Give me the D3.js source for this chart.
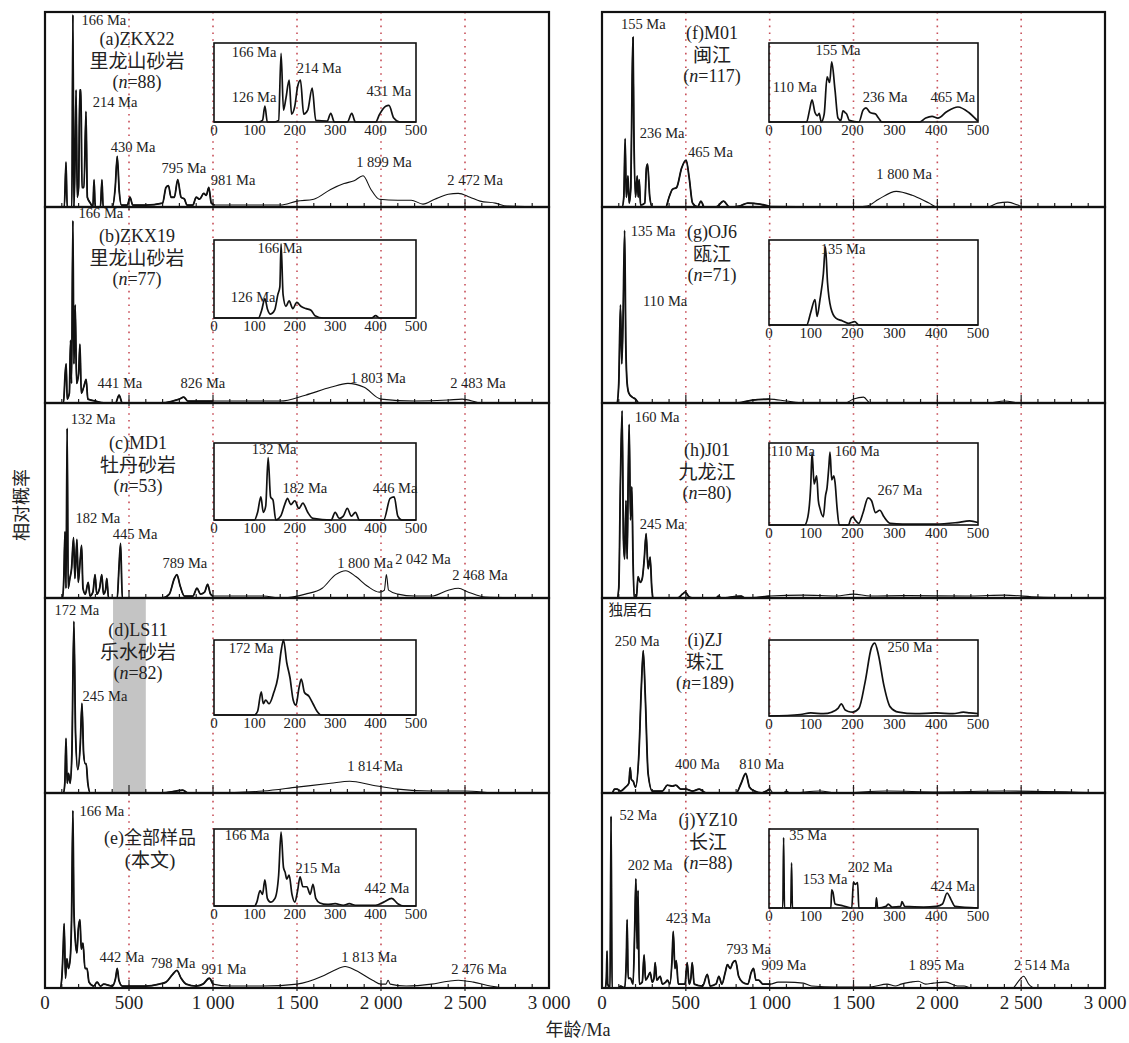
<!DOCTYPE html>
<html>
<head>
<meta charset="utf-8">
<script src="https://cdn.jsdelivr.net/npm/d3@7"></script>
<style>
body { margin: 0; background: #fff; }
text { font-family: "Liberation Serif", "Noto Sans CJK SC", serif; fill: #222; }
</style>
</head>
<body>
<div id="chart"></div>
<script>
// ---- data (ages in Ma, relative probability 0..1 of panel height) ----
var ticksMain = [0, 500, 1000, 1500, 2000, 2500, 3000];
var tickLabelsMain = ["0", "500", "1 000", "1 500", "2 000", "2 500", "3 000"];
var ticksInset = [0, 100, 200, 300, 400, 500];

var titles = [
  ["(a)ZKX22", "里龙山砂岩", "88"],
  ["(b)ZKX19", "里龙山砂岩", "77"],
  ["(c)MD1", "牡丹砂岩", "53"],
  ["(d)LS11", "乐水砂岩", "82"],
  ["(e)全部样品", "(本文)", null],
  ["(f)M01", "闽江", "117"],
  ["(g)OJ6", "瓯江", "71"],
  ["(h)J01", "九龙江", "80"],
  ["(i)ZJ", "珠江", "189"],
  ["(j)YZ10", "长江", "88"]
];

var curveA = [[0,0],[100,0],[115,0],[125,0.23],[132,0],[160,0],[166,0.985],[172,0],[178,0.2],[185,0.6],[192,0.05],[200,0.1],[207,0.6],[214,0.6],[220,0.1],[232,0.1],[244,0.49],[252,0.05],[270,0.02],[285,0],[292,0.14],[299,0],[330,0],[339,0.14],[346,0],[400,0],[418,0.1],[430,0.26],[442,0.08],[455,0.01],[490,0.01],[506,0.05],[522,0.01],[600,0.01],[700,0.02],[720,0.1],[735,0.11],[750,0.05],[770,0.05],[790,0.14],[810,0.05],[830,0.04],[845,0.01],[880,0.01],[900,0.05],[920,0.04],[945,0.07],[960,0.06],[975,0.1],[990,0.02],[1010,0.01],[1200,0.01],[1400,0.01],[1500,0.03],[1600,0.04],[1700,0.09],[1780,0.12],[1840,0.135],[1893,0.16],[1940,0.09],[1990,0.04],[2100,0.035],[2180,0.035],[2250,0.015],[2320,0.04],[2400,0.065],[2460,0.07],[2530,0.05],[2590,0.03],[2680,0.02],[2750,0.005],[3000,0]];
var insetA = [[0,0],[110,0],[120,0.02],[126,0.2],[132,0],[150,0],[160,0.02],[166,0.87],[172,0.15],[178,0.3],[186,0.53],[192,0.1],[200,0.2],[207,0.45],[214,0.53],[222,0.1],[232,0.15],[243,0.43],[252,0.02],[280,0.01],[289,0.11],[298,0],[330,0],[341,0.11],[350,0],[400,0],[410,0.1],[425,0.2],[433,0.21],[445,0.05],[460,0],[500,0]];

var curveB = [[0,0],[110,0],[120,0.15],[126,0.2],[132,0.02],[145,0.05],[152,0.32],[158,0.1],[166,0.93],[172,0.2],[180,0.5],[188,0.1],[200,0.15],[208,0.3],[216,0.05],[230,0.08],[245,0.12],[255,0.02],[300,0.01],[350,0],[420,0],[441,0.04],[460,0],[700,0],[760,0.01],[800,0.02],[826,0.03],[850,0.01],[1000,0.01],[1400,0.01],[1550,0.04],[1700,0.08],[1803,0.1],[1900,0.08],[2000,0.02],[2200,0.01],[2400,0.015],[2483,0.02],[2600,0],[3000,0]];
var insetB = [[0,0],[110,0],[118,0.1],[126,0.25],[132,0.12],[140,0.05],[150,0.1],[158,0.3],[163,0.4],[166,0.95],[171,0.3],[178,0.15],[186,0.22],[195,0.12],[205,0.2],[215,0.15],[228,0.12],[240,0.1],[250,0.03],[270,0],[390,0],[400,0.03],[410,0],[500,0]];

var curveC = [[0,0],[105,0],[112,0.1],[119,0.34],[125,0.05],[132,0.87],[138,0.05],[148,0.1],[158,0.15],[170,0.31],[178,0.1],[190,0.3],[198,0.08],[210,0.2],[218,0.27],[226,0.05],[240,0.02],[257,0.08],[268,0.01],[285,0.03],[298,0.12],[308,0.02],[325,0.05],[338,0.12],[348,0.02],[360,0.04],[368,0.1],[378,0],[430,0],[440,0.15],[450,0.28],[460,0],[500,0],[700,0],[740,0.02],[770,0.1],[785,0.12],[805,0.06],[830,0.01],[880,0.01],[905,0.05],[925,0.02],[950,0.03],[968,0.07],[985,0.02],[1000,0.01],[1300,0.01],[1400,0],[1550,0.02],[1650,0.05],[1730,0.12],[1790,0.14],[1850,0.11],[1920,0.06],[1990,0.03],[2020,0.04],[2032,0.12],[2045,0.04],[2100,0.02],[2200,0.01],[2300,0.01],[2400,0.04],[2460,0.05],[2520,0.03],[2620,0.005],[3000,0]];
var insetC = [[0,0],[100,0],[108,0.1],[116,0.3],[122,0.1],[128,0.18],[134,0.81],[140,0.3],[146,0.26],[153,0],[165,0.05],[175,0.2],[182,0.28],[190,0.2],[200,0.25],[210,0.15],[220,0.22],[232,0.1],[245,0.02],[290,0],[300,0.1],[310,0.02],[320,0.05],[330,0.15],[340,0.05],[350,0.1],[360,0],[420,0],[436,0.28],[446,0.3],[455,0.05],[465,0],[500,0]];

var curveD = [[0,0],[110,0],[118,0.05],[125,0.28],[132,0.05],[140,0.1],[150,0.05],[160,0.2],[172,0.88],[182,0.3],[195,0.12],[210,0.25],[220,0.46],[230,0.2],[240,0.15],[245,0.15],[255,0.05],[270,0],[700,0],[780,0.01],[820,0.015],[850,0],[1000,0],[1300,0.01],[1500,0.03],[1700,0.05],[1814,0.06],[1950,0.04],[2100,0.02],[2300,0.01],[2500,0.01],[2700,0],[3000,0]];
var insetD = [[0,0],[100,0],[108,0.05],[117,0.31],[122,0.15],[128,0.2],[136,0.15],[148,0.3],[158,0.5],[166,0.85],[172,1.0],[180,0.7],[188,0.5],[196,0.2],[203,0.13],[210,0.35],[216,0.48],[224,0.3],[235,0.25],[245,0.15],[255,0.05],[265,0],[500,0]];
var shadedBand = [405, 600];

var curveE = [[0,0],[90,0],[100,0.05],[108,0.2],[114,0.33],[122,0.05],[130,0.15],[140,0.1],[150,0.15],[158,0.35],[166,0.91],[172,0.41],[180,0.25],[190,0.18],[198,0.3],[208,0.35],[216,0.2],[226,0.23],[238,0.1],[250,0.1],[262,0.03],[290,0.01],[310,0.03],[330,0.01],[350,0.02],[400,0.01],[420,0.05],[430,0.1],[440,0.04],[460,0.01],[600,0.01],[680,0.02],[720,0.03],[760,0.07],[785,0.09],[810,0.05],[840,0.02],[900,0.01],[940,0.02],[978,0.05],[1000,0.02],[1100,0.01],[1300,0.01],[1500,0.02],[1650,0.06],[1720,0.09],[1786,0.11],[1850,0.09],[1950,0.04],[2000,0.02],[2030,0.02],[2042,0.04],[2055,0.02],[2150,0.01],[2300,0.02],[2400,0.035],[2460,0.04],[2550,0.03],[2650,0.01],[2750,0],[3000,0]];
var insetE = [[0,0],[100,0],[106,0.05],[114,0.2],[120,0.15],[126,0.34],[132,0.1],[140,0.05],[151,0.1],[160,0.4],[166,0.96],[172,0.5],[176,0.44],[180,0.35],[186,0.4],[193,0.15],[200,0.05],[207,0.2],[213,0.38],[220,0.25],[230,0.25],[238,0.15],[245,0.28],[252,0.1],[262,0.04],[280,0.02],[300,0.03],[320,0.01],[335,0.03],[350,0.01],[400,0.01],[420,0.05],[440,0.1],[455,0.03],[470,0],[500,0]];

var curveF = [[0,0],[120,0],[130,0.05],[138,0.35],[145,0.05],[150,0.1],[155,0.16],[162,0.02],[172,0.1],[180,0.67],[185,0.87],[190,0.4],[200,0.05],[210,0.16],[216,0.05],[222,0.14],[230,0.01],[255,0.02],[265,0.2],[272,0.22],[285,0.05],[300,0],[380,0],[400,0.05],[420,0.09],[445,0.1],[475,0.2],[502,0.24],[520,0.15],[540,0.02],[570,0],[590,0.03],[610,0],[680,0],[725,0.03],[760,0],[820,0.005],[870,0.02],[940,0.015],[1000,0.003],[1500,0],[1580,0.005],[1650,0.04],[1755,0.08],[1850,0.06],[1950,0.02],[2000,0],[2300,0],[2360,0.02],[2420,0.025],[2480,0.01],[2510,0],[3000,0]];
var insetF = [[0,0],[90,0],[97,0.15],[103,0.28],[110,0.12],[116,0.08],[120,0.11],[125,0],[132,0.1],[139,0.57],[145,0.5],[150,0.76],[158,0.4],[165,0.05],[172,0.02],[177,0.14],[182,0.12],[186,0.1],[192,0.02],[215,0],[225,0.15],[232,0.18],[242,0.12],[255,0.1],[262,0.05],[270,0],[360,0],[375,0.05],[390,0.07],[404,0.05],[425,0.13],[452,0.19],[478,0.12],[498,0.02],[500,0.01]];

var curveG = [[0,0],[90,0],[100,0.1],[110,0.5],[118,0.2],[125,0.4],[135,0.88],[142,0.3],[150,0.1],[160,0.05],[180,0.03],[200,0.02],[220,0],[800,0],[900,0.015],[1000,0.02],[1100,0.01],[1200,0],[1450,0],[1500,0.02],[1560,0.03],[1600,0],[2300,0],[2400,0.01],[2500,0],[3000,0]];
var insetG = [[0,0],[90,0],[100,0.15],[110,0.3],[115,0.1],[122,0.3],[130,0.6],[135,0.92],[140,0.5],[148,0.2],[160,0.08],[175,0.05],[190,0.02],[205,0.04],[215,0],[500,0]];

var curveH = [[0,0],[90,0],[100,0.05],[110,0.6],[120,0.96],[128,0.3],[135,0.2],[143,0.5],[150,0.2],[156,0.6],[162,0.89],[170,0.4],[178,0.57],[185,0.2],[192,0],[205,0],[215,0.11],[228,0.08],[240,0.1],[252,0.2],[263,0.33],[275,0.15],[287,0.21],[297,0.05],[305,0],[450,0],[480,0.02],[497,0.03],[515,0.01],[540,0],[680,0],[695,0.01],[710,0],[830,0.01],[850,0],[950,0.005],[1000,0.01],[1200,0.015],[1400,0.01],[1500,0.02],[1600,0.01],[1800,0.012],[2200,0.01],[2400,0.015],[2600,0.005],[3000,0]];
var insetH = [[0,0],[85,0],[93,0.1],[100,0.5],[103,0.88],[108,0.5],[114,0.6],[118,0.3],[122,0.2],[130,0.1],[135,0.35],[139,0.46],[143,0.7],[146,0.89],[150,0.55],[155,0.6],[158,0.52],[163,0.2],[168,0],[190,0],[196,0.08],[201,0.1],[206,0.06],[215,0.02],[225,0.15],[237,0.33],[245,0.3],[255,0.15],[265,0.18],[275,0.1],[290,0.02],[320,0.01],[400,0.01],[450,0.03],[480,0.05],[500,0.03]];

var curveI = [[0,0],[60,0],[75,0.02],[90,0.02],[110,0.01],[140,0.03],[160,0.05],[168,0.13],[175,0.07],[186,0.06],[200,0.03],[220,0.2],[235,0.55],[246,0.73],[258,0.5],[275,0.1],[300,0.01],[360,0.01],[390,0.04],[420,0.035],[440,0.04],[470,0.02],[500,0.02],[540,0.01],[580,0.02],[620,0],[800,0],[830,0.05],[857,0.1],[880,0.03],[910,0.01],[950,0],[980,0.01],[1000,0.02],[1020,0],[1080,0],[1100,0.01],[1120,0],[1300,0.01],[1400,0],[1700,0.01],[2000,0.005],[2400,0.01],[3000,0]];
var insetI = [[0,0],[75,0.02],[100,0.04],[130,0.03],[150,0.05],[165,0.1],[173,0.16],[182,0.08],[190,0.06],[200,0.05],[215,0.1],[230,0.45],[245,0.9],[253,0.96],[262,0.8],[275,0.4],[290,0.12],[310,0.05],[350,0.03],[400,0.04],[440,0.03],[465,0.05],[480,0.04],[500,0.03]];

var curveJ = [[0,0],[20,0],[26,0.05],[30,0.19],[34,0.02],[48,0],[54,0.88],[60,0],[100,0],[110,0.01],[135,0],[145,0.15],[150,0.35],[156,0.05],[170,0.05],[185,0.02],[195,0.3],[202,0.56],[210,0.2],[215,0.5],[222,0.02],[240,0.03],[251,0.17],[260,0.04],[275,0.06],[287,0.08],[300,0.03],[310,0.05],[317,0.13],[327,0.04],[347,0.06],[360,0.02],[380,0.03],[390,0.04],[405,0.02],[418,0.15],[425,0.29],[435,0.1],[443,0.14],[455,0.02],[495,0.02],[508,0.13],[520,0.02],[530,0.05],[538,0.13],[550,0.02],[600,0.01],[628,0.07],[645,0.01],[680,0.02],[697,0.06],[715,0.02],[735,0.08],[748,0.12],[765,0.1],[780,0.13],[796,0.14],[815,0.06],[838,0.03],[870,0.02],[890,0.08],[904,0.1],[918,0.04],[934,0.04],[960,0.02],[1005,0.02],[1050,0.03],[1100,0.03],[1200,0.025],[1250,0.01],[1400,0.005],[1600,0.005],[1700,0.02],[1750,0.01],[1784,0.02],[1840,0.03],[1886,0.035],[1930,0.02],[1976,0.025],[2050,0.03],[2120,0.01],[2160,0.01],[2200,0],[2450,0],[2480,0.03],[2515,0.06],[2545,0.02],[2580,0],[3000,0]];
var insetJ = [[0,0],[33,0],[35,0.89],[37,0],[52,0],[54,0.57],[56,0],[148,0],[150,0.23],[153,0.2],[158,0.05],[175,0.03],[198,0],[202,0.33],[206,0.3],[212,0.32],[215,0],[255,0],[257,0.13],[260,0],[280,0.02],[285,0.05],[295,0.01],[315,0.02],[318,0.08],[325,0.02],[370,0.01],[400,0.02],[415,0.05],[426,0.19],[436,0.1],[445,0.02],[500,0]];

// peak labels: [text, age, relative height]
var labelsA = [["166 Ma",351,0.96],["214 Ma",417,0.54],["430 Ma",524,0.31],["795 Ma",827,0.2],["981 Ma",1119,0.14],["1 899 Ma",2018,0.23],["2 472 Ma",2560,0.14]];
var insetLabelsA = [["166 Ma",99,0.89],["126 Ma",99,0.32],["214 Ma",260,0.68],["431 Ma",433,0.39]];
var labelsB = [["166 Ma",333,0.97],["441 Ma",446,0.1],["826 Ma",940,0.1],["1 803 Ma",1982,0.13],["2 483 Ma",2577,0.1]];
var insetLabelsB = [["166 Ma",163,0.9],["126 Ma",97,0.27]];
var labelsC = [["132 Ma",286,0.92],["182 Ma",315,0.41],["445 Ma",536,0.33],["789 Ma",833,0.18],["1 800 Ma",1905,0.18],["2 042 Ma",2250,0.2],["2 468 Ma",2589,0.12]];
var insetLabelsC = [["132 Ma",149,0.92],["182 Ma",225,0.42],["446 Ma",448,0.42]];
var labelsD = [["172 Ma",190,0.94],["245 Ma",357,0.5],["1 814 Ma",1964,0.14]];
var insetLabelsD = [["172 Ma",92,0.9]];
var labelsE = [["166 Ma",339,0.91],["442 Ma",458,0.16],["798 Ma",762,0.13],["991 Ma",1065,0.1],["1 813 Ma",1929,0.16],["2 476 Ma",2583,0.1]];
var insetLabelsE = [["166 Ma",82,0.92],["215 Ma",257,0.5],["442 Ma",428,0.23]];
var labelsF = [["155 Ma",246,0.94],["236 Ma",359,0.38],["465 Ma",647,0.28],["1 800 Ma",1802,0.17]];
var insetLabelsF = [["155 Ma",165,0.91],["110 Ma",62,0.44],["236 Ma",278,0.32],["465 Ma",440,0.32]];
var labelsG = [["135 Ma",305,0.88],["110 Ma",377,0.52]];
var insetLabelsG = [["135 Ma",177,0.9]];
var labelsH = [["160 Ma",329,0.93],["245 Ma",359,0.38]];
var insetLabelsH = [["110 Ma",57,0.9],["160 Ma",211,0.9],["267 Ma",313,0.43]];
var labelsI = [["独居石",168,0.94],["250 Ma",210,0.78],["400 Ma",569,0.15],["810 Ma",952,0.15]];
var insetLabelsI = [["250 Ma",337,0.91]];
var labelsJ = [["52 Ma",216,0.89],["202 Ma",287,0.63],["423 Ma",515,0.36],["793 Ma",874,0.2],["909 Ma",1084,0.12],["1 895 Ma",1994,0.12],["2 514 Ma",2623,0.12]];
var insetLabelsJ = [["35 Ma",93,0.92],["153 Ma",134,0.37],["202 Ma",242,0.52],["424 Ma",440,0.28]];

// ---- layout ----
var W = 1129, H = 1043;
var cols = [[45, 549], [602, 1105]];
var rowTops = [12, 207, 403, 598, 793], rowBottom = 988;
var insetCols = [[214, 416], [769, 978]];
var insetRows = [[43, 122], [240, 318], [443, 520], [640, 715], [829, 906]];
var insetRowsR = [[43, 122], [240, 325], [443, 525], [640, 716], [829, 908]];
var titlePos = [[137, 39], [137, 236], [138, 443], [138, 630], [150, 838], [712, 33], [712, 232], [707, 450], [705, 640], [708, 820]];

var curves = [curveA, curveB, curveC, curveD, curveE, curveF, curveG, curveH, curveI, curveJ];
var insets = [insetA, insetB, insetC, insetD, insetE, insetF, insetG, insetH, insetI, insetJ];
var labels = [labelsA, labelsB, labelsC, labelsD, labelsE, labelsF, labelsG, labelsH, labelsI, labelsJ];
var insetLabels = [insetLabelsA, insetLabelsB, insetLabelsC, insetLabelsD, insetLabelsE, insetLabelsF, insetLabelsG, insetLabelsH, insetLabelsI, insetLabelsJ];

var svg = d3.select("#chart").append("svg").attr("width", W).attr("height", H);

var line = function(x, y) {
  return d3.line().x(function(d) { return x(d[0]); }).y(function(d) { return y(d[1]); }).curve(d3.curveMonotoneX);
};

cols.forEach(function(c, ci) {
  var x = d3.scaleLinear().domain([0, 3000]).range(c);
  var g = svg.append("g");

  // red dotted reference lines
  g.selectAll("line.ref").data([500, 1000, 1500, 2000, 2500]).enter().append("line")
    .attr("x1", x).attr("x2", x).attr("y1", rowTops[0]).attr("y2", rowBottom)
    .attr("stroke", "#c8505a").attr("stroke-width", 1.6).attr("stroke-dasharray", "1.6,5.2");

  rowTops.forEach(function(top, ri) {
    var k = ci * 5 + ri;
    var bottom = ri < 4 ? rowTops[ri + 1] : rowBottom;
    var y = d3.scaleLinear().domain([0, 1]).range([bottom, top]);

    if (k === 3) {
      g.append("rect").attr("x", x(shadedBand[0])).attr("y", top)
        .attr("width", x(shadedBand[1]) - x(shadedBand[0])).attr("height", bottom - top)
        .attr("fill", "#c4c4c4");
    }

    // minor ticks on baseline
    g.selectAll(null).data(d3.range(100, 3000, 100)).enter().append("line")
      .attr("x1", x).attr("x2", x)
      .attr("y1", function(d) { return d % 500 === 0 ? bottom + 3 : bottom; })
      .attr("y2", function(d) { return d % 500 === 0 ? bottom - 8 : bottom - 4; })
      .attr("stroke", "#222").attr("stroke-width", 1.2);

    // main curve: thin everywhere, thicker for the young part
    g.append("path").datum(curves[k]).attr("d", line(x, y))
      .attr("fill", "none").attr("stroke", "#111").attr("stroke-width", 1.1);
    g.append("path").datum(curves[k].filter(function(d) { return d[0] <= 1010; })).attr("d", line(x, y))
      .attr("fill", "none").attr("stroke", "#111").attr("stroke-width", 1.8);

    // panel frame
    g.append("rect").attr("x", c[0]).attr("y", top).attr("width", c[1] - c[0]).attr("height", bottom - top)
      .attr("fill", "none").attr("stroke", "#111").attr("stroke-width", 2.2);

    // peak labels
    g.selectAll(null).data(labels[k]).enter().append("text")
      .attr("x", function(d) { return x(d[1]); }).attr("y", function(d) { return y(d[2]); })
      .attr("dy", "0.35em").attr("text-anchor", "middle").style("font-size", "14.5px")
      .text(function(d) { return d[0]; });

    // title block
    var t = titles[k], tp = titlePos[k];
    g.append("text").attr("x", tp[0]).attr("y", tp[1]).attr("dy", "0.35em").attr("text-anchor", "middle")
      .style("font-size", "18px").text(t[0]);
    g.append("text").attr("x", tp[0]).attr("y", tp[1] + 22).attr("dy", "0.35em").attr("text-anchor", "middle")
      .style("font-size", "19px").text(t[1]);
    if (t[2]) {
      var nt = g.append("text").attr("x", tp[0]).attr("y", tp[1] + 43).attr("dy", "0.35em").attr("text-anchor", "middle")
        .style("font-size", "18px");
      nt.append("tspan").text("(");
      nt.append("tspan").style("font-style", "italic").text("n");
      nt.append("tspan").text("=" + t[2] + ")");
    }

    // inset
    var ir = ci === 0 ? insetRows[ri] : insetRowsR[ri];
    var ix = d3.scaleLinear().domain([0, 500]).range(insetCols[ci]);
    var iy = d3.scaleLinear().domain([0, 1]).range([ir[1], ir[0]]);
    g.append("path").datum(insets[k]).attr("d", line(ix, iy))
      .attr("fill", "none").attr("stroke", "#111").attr("stroke-width", 1.7);
    g.append("rect").attr("x", insetCols[ci][0]).attr("y", ir[0])
      .attr("width", insetCols[ci][1] - insetCols[ci][0]).attr("height", ir[1] - ir[0])
      .attr("fill", "none").attr("stroke", "#111").attr("stroke-width", 1.6);
    g.selectAll(null).data(ticksInset).enter().append("text")
      .attr("x", ix).attr("y", ir[1] + 8).attr("dy", "0.35em").attr("text-anchor", "middle")
      .style("font-size", "15px").text(function(d) { return d; });
    g.selectAll(null).data(insetLabels[k]).enter().append("text")
      .attr("x", function(d) { return ix(d[1]); }).attr("y", function(d) { return iy(d[2]); })
      .attr("dy", "0.35em").attr("text-anchor", "middle").style("font-size", "14.5px")
      .text(function(d) { return d[0]; });
  });

  // bottom axis labels
  g.selectAll(null).data(ticksMain).enter().append("text")
    .attr("x", x).attr("y", 1002).attr("dy", "0.35em").attr("text-anchor", "middle")
    .style("font-size", "19px").text(function(d, i) { return tickLabelsMain[i]; });
});

svg.append("text").attr("x", 578).attr("y", 1030).attr("dy", "0.35em").attr("text-anchor", "middle")
  .style("font-size", "18px").text("年龄/Ma");
svg.append("text").attr("transform", "translate(22,505)rotate(-90)").attr("dy", "0.35em")
  .attr("text-anchor", "middle").style("font-size", "18px").text("相对概率");
</script>
</body>
</html>
